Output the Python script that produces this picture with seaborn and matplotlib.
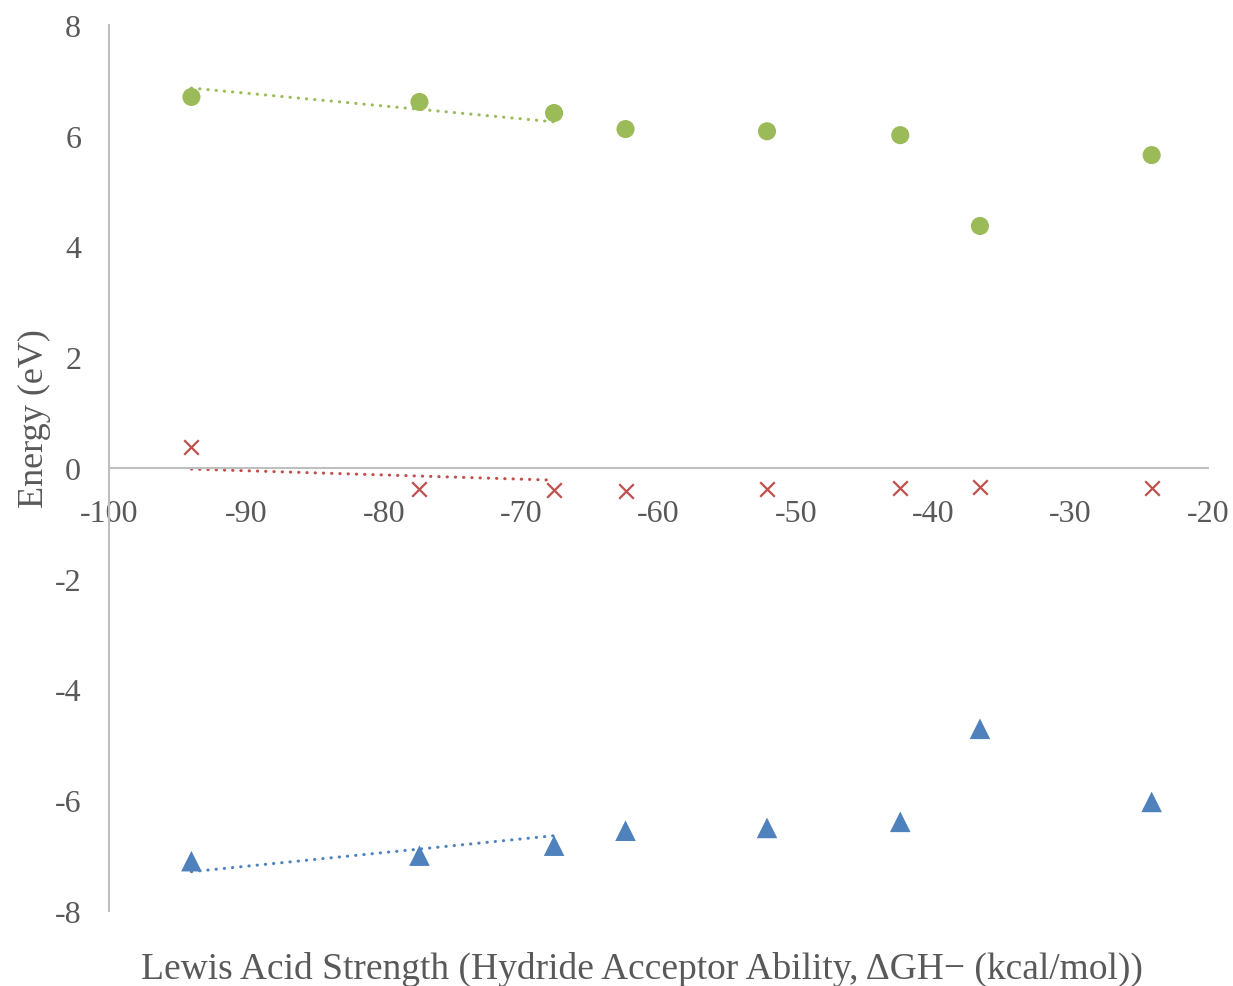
import matplotlib.pyplot as plt
import seaborn as sns
import pandas as pd

sns.set_style("white")
plt.rcParams["font.family"] = ["Liberation Serif", "DejaVu Serif"]
plt.rcParams["axes.unicode_minus"] = False

# data
strength = [-94.0, -77.4, -67.6, -62.4, -52.1, -42.4, -36.6, -24.1]
green = [6.70, 6.61, 6.41, 6.12, 6.08, 6.01, 4.37, 5.65]
red = [0.38, -0.38, -0.40, -0.42, -0.38, -0.36, -0.34, -0.36]
blue = [-7.10, -7.00, -6.82, -6.55, -6.50, -6.39, -4.71, -6.03]

trendX = [-94.0, -67.6]
greenTrend = [6.86, 6.25]
redTrend = [-0.02, -0.22]
blueTrend = [-7.29, -6.64]

gColor = "#9BBB59"
rColor = "#C0504D"
bColor = "#4F81BD"

df = pd.DataFrame({"x": strength, "green": green, "red": red, "blue": blue})
trend = pd.DataFrame({"x": trendX, "green": greenTrend, "red": redTrend, "blue": blueTrend})

fig = plt.figure(figsize=(12.33, 9.87), dpi=100)
ax = fig.add_axes([0.0884, 0.076, 0.8913, 0.8977])

dotted = (0, (0.1, 2.6))
for col, c in [("green", gColor), ("red", rColor), ("blue", bColor)]:
    sns.lineplot(data=trend, x="x", y=col, ax=ax, color=c, linewidth=2.2,
                 linestyle=dotted, dash_capstyle="round", legend=False)

sns.scatterplot(data=df, x="x", y="green", ax=ax, color=gColor, marker="o", s=170, edgecolor="none")
sns.scatterplot(data=df, x="x", y="red", ax=ax, color=rColor, marker="x", s=110, linewidth=1.6)
sns.scatterplot(data=df, x="x", y="blue", ax=ax, color=bColor, marker="^", s=220, edgecolor="none")

ax.set_xlim(-100, -20)
ax.set_ylim(-8, 8)
ax.set_xticks(range(-100, -19, 10))
ax.set_yticks(range(-8, 9, 2))

for s in ["top", "right"]:
    ax.spines[s].set_visible(False)
ax.spines["bottom"].set_position(("data", 0))
for s in ["left", "bottom"]:
    ax.spines[s].set_color("#bfbfbf")
    ax.spines[s].set_linewidth(1.5)

ax.tick_params(axis="both", length=0, labelsize=23, labelcolor="#595959")
ax.tick_params(axis="x", pad=22)
ax.tick_params(axis="y", pad=20)

ax.set_ylabel("Energy (eV)", fontsize=26, color="#595959")
ax.yaxis.set_label_coords(-0.053, 0.557)
ax.set_xlabel("Lewis Acid Strength (Hydride Acceptor Ability, ΔGH− (kcal/mol))", fontsize=27, color="#595959")
ax.xaxis.set_label_coords(0.485, -0.045)

fig.savefig("out.png", dpi=100)
